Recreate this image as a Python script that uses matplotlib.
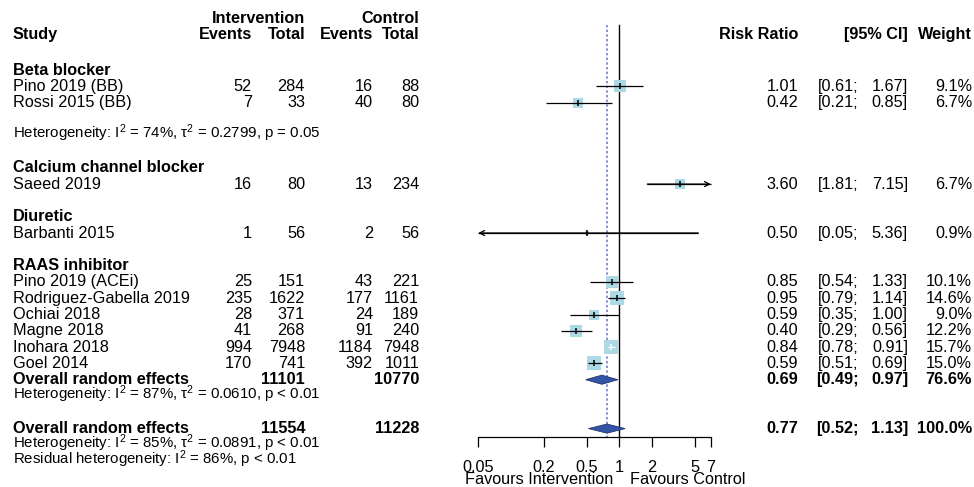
import numpy as np
import matplotlib
matplotlib.use("Agg")
import matplotlib.pyplot as plt
from matplotlib import transforms
from matplotlib.patches import Polygon

plt.rcParams['font.family'] = ['Liberation Sans', 'DejaVu Sans']
plt.rcParams['mathtext.fontset'] = 'custom'
plt.rcParams['mathtext.rm'] = 'Liberation Sans'
plt.rcParams['mathtext.it'] = 'Liberation Sans:italic'
plt.rcParams['mathtext.bf'] = 'Liberation Sans:bold'

# Studies (in display order)
studies = ["Pino 2019 (BB)", "Rossi 2015 (BB)", "Saeed 2019", "Barbanti 2015",
           "Pino 2019 (ACEi)", "Rodriguez-Gabella 2019", "Ochiai 2018",
           "Magne 2018", "Inohara 2018", "Goel 2014"]
ev_int = [52, 7, 16, 1, 25, 235, 28, 41, 994, 170]
n_int = [284, 33, 80, 56, 151, 1622, 371, 268, 7948, 741]
ev_ctl = [16, 40, 13, 2, 43, 177, 24, 91, 1184, 392]
n_ctl = [88, 80, 234, 56, 221, 1161, 189, 240, 7948, 1011]
rr = [1.01, 0.42, 3.60, 0.50, 0.85, 0.95, 0.59, 0.40, 0.84, 0.59]
lo = [0.61, 0.21, 1.81, 0.05, 0.54, 0.79, 0.35, 0.29, 0.78, 0.51]
hi = [1.67, 0.85, 7.15, 5.36, 1.33, 1.14, 1.00, 0.56, 0.91, 0.69]
weight = [9.1, 6.7, 6.7, 0.9, 10.1, 14.6, 9.0, 12.2, 15.7, 15.0]

groups = ["Beta blocker", "Calcium channel blocker", "Diuretic", "RAAS inhibitor"]

# pooled results: RAAS subgroup and overall
pooled_label = "Overall random effects"
pooled_n_int = [11101, 11554]
pooled_n_ctl = [10770, 11228]
pooled_rr = [0.69, 0.77]
pooled_lo = [0.49, 0.52]
pooled_hi = [0.97, 1.13]
pooled_w = [76.6, 100.0]

het_texts = ["Heterogeneity: I$^2$ = 74%, τ$^2$ = 0.2799, p = 0.05",
             "Heterogeneity: I$^2$ = 87%, τ$^2$ = 0.0610, p < 0.01",
             "Heterogeneity: I$^2$ = 85%, τ$^2$ = 0.0891, p < 0.01",
             "Residual heterogeneity: I$^2$ = 86%, p < 0.01"]

ticks = [0.05, 0.2, 0.5, 1, 2, 5, 7]
tick_labels = ["0.05", "0.2", "0.5", "1", "2", "5", "7"]
xmin, xmax = 0.05, 7

# layout (row positions)
study_rows = [1, 2, 7, 10, 13, 14, 15, 16, 17, 18]
group_rows = [0, 6, 9, 12]
pooled_rows = [19, 22]
het_rows = [4, 20, 23, 24]

W, H = 974, 487
fig = plt.figure(figsize=(W / 100, H / 100), dpi=100)
ax = fig.add_axes([0, 0, 1, 1])
ax.set_xscale('log')
x0px, dec = 619.3, 108.4
ax.set_xlim(10 ** ((0 - x0px) / dec), 10 ** ((W - x0px) / dec))
r0, rh = 70, 16.3
ax.set_ylim((H - r0) / rh, (0 - r0) / rh)
ax.axis('off')

tr = transforms.blended_transform_factory(ax.transAxes, ax.transData)
FS = 11.7
FS_HET = 10.8
BOX = 3.65  # px of square side per sqrt(weight)


def txt(px, row, s, ha='left', bold=False, fs=FS):
    ax.text(px / W, row, s, transform=tr, ha=ha, va='center', fontsize=fs,
            fontweight='bold' if bold else 'normal')


# headers
hr1, hr2 = (18 - r0) / rh, (34 - r0) / rh
txt(305, hr1, "Intervention", ha='right', bold=True)
txt(419, hr1, "Control", ha='right', bold=True)
txt(13, hr2, "Study", bold=True)
txt(252, hr2, "Events", ha='right', bold=True)
txt(305, hr2, "Total", ha='right', bold=True)
txt(373, hr2, "Events", ha='right', bold=True)
txt(419, hr2, "Total", ha='right', bold=True)
txt(798, hr2, "Risk Ratio", ha='right', bold=True)
txt(908, hr2, "[95% CI]", ha='right', bold=True)
txt(972, hr2, "Weight", ha='right', bold=True)

for g, r in zip(groups, group_rows):
    txt(13, r, g, bold=True)

for i, r in enumerate(study_rows):
    txt(13, r, studies[i])
    txt(252, r, str(ev_int[i]), ha='right')
    txt(305, r, str(n_int[i]), ha='right')
    txt(373, r, str(ev_ctl[i]), ha='right')
    txt(419, r, str(n_ctl[i]), ha='right')
    txt(798, r, f"{rr[i]:.2f}", ha='right')
    txt(818, r, f"[{lo[i]:.2f};")
    txt(908, r, f"{hi[i]:.2f}]", ha='right')
    txt(972, r, f"{weight[i]:.1f}%", ha='right')

    # square, CI
    side = BOX * np.sqrt(weight[i]) * 0.72
    ax.scatter([rr[i]], [r], marker='s', s=side ** 2, color='#ADD8E6',
               linewidths=0, zorder=3)
    inside = (np.log10(hi[i]) - np.log10(lo[i])) * dec < BOX * np.sqrt(weight[i])
    col = 'white' if inside else 'black'
    a, b = max(lo[i], xmin), min(hi[i], xmax)
    ax.plot([a, b], [r, r], color=col, lw=0.9, zorder=4, solid_capstyle='butt')
    if hi[i] > xmax:
        ax.annotate("", xy=(xmax, r), xytext=(lo[i], r),
                    arrowprops=dict(arrowstyle='->', lw=0.9, color='black',
                                    mutation_scale=9, shrinkA=0, shrinkB=0),
                    zorder=4)
    if lo[i] <= xmin:
        ax.annotate("", xy=(xmin, r), xytext=(hi[i], r),
                    arrowprops=dict(arrowstyle='->', lw=0.9, color='black',
                                    mutation_scale=9, shrinkA=0, shrinkB=0),
                    zorder=4)
    ax.plot([rr[i]], [r], marker='|', ms=4, mew=1.1, color=col, zorder=5)

for j, r in enumerate(pooled_rows):
    txt(13, r, pooled_label, bold=True)
    txt(305, r, str(pooled_n_int[j]), ha='right', bold=True)
    txt(419, r, str(pooled_n_ctl[j]), ha='right', bold=True)
    txt(798, r, f"{pooled_rr[j]:.2f}", ha='right', bold=True)
    txt(816, r, f"[{pooled_lo[j]:.2f};", bold=True)
    txt(908, r, f"{pooled_hi[j]:.2f}]", ha='right', bold=True)
    txt(972, r, f"{pooled_w[j]:.1f}%", ha='right', bold=True)
    dh = 0.28
    poly = Polygon([(pooled_lo[j], r), (pooled_rr[j], r - dh),
                    (pooled_hi[j], r), (pooled_rr[j], r + dh)],
                   closed=True, facecolor='#3155A6', edgecolor='#22336E',
                   lw=0.6, zorder=4)
    ax.add_patch(poly)

for s, r in zip(het_texts, het_rows):
    txt(13, r - 0.12, s, fs=FS_HET)

# reference lines
y_top = (25 - r0) / rh
y_axis = (437 - r0) / rh
ax.plot([1, 1], [y_top, y_axis], color='black', lw=1.0, zorder=2)
ax.plot([pooled_rr[1]] * 2, [y_top, y_axis], color='#8490D6', lw=1.4,
        dashes=(1.2, 1.2), zorder=1)

# x axis
ax.plot([xmin, xmax], [y_axis, y_axis], color='black', lw=0.9)
y_tick = (447 - r0) / rh
ax.vlines(ticks, y_axis, y_tick, color='black', lw=0.9)
y_lab = (467 - r0) / rh
for t, l in zip(ticks, tick_labels):
    ax.text(t, y_lab, l, ha='center', va='center', fontsize=FS)
y_fav = (479 - r0) / rh
txt(613, y_fav, "Favours Intervention", ha='right')
txt(630, y_fav, "Favours Control")

fig.savefig("out.png", dpi=100)
